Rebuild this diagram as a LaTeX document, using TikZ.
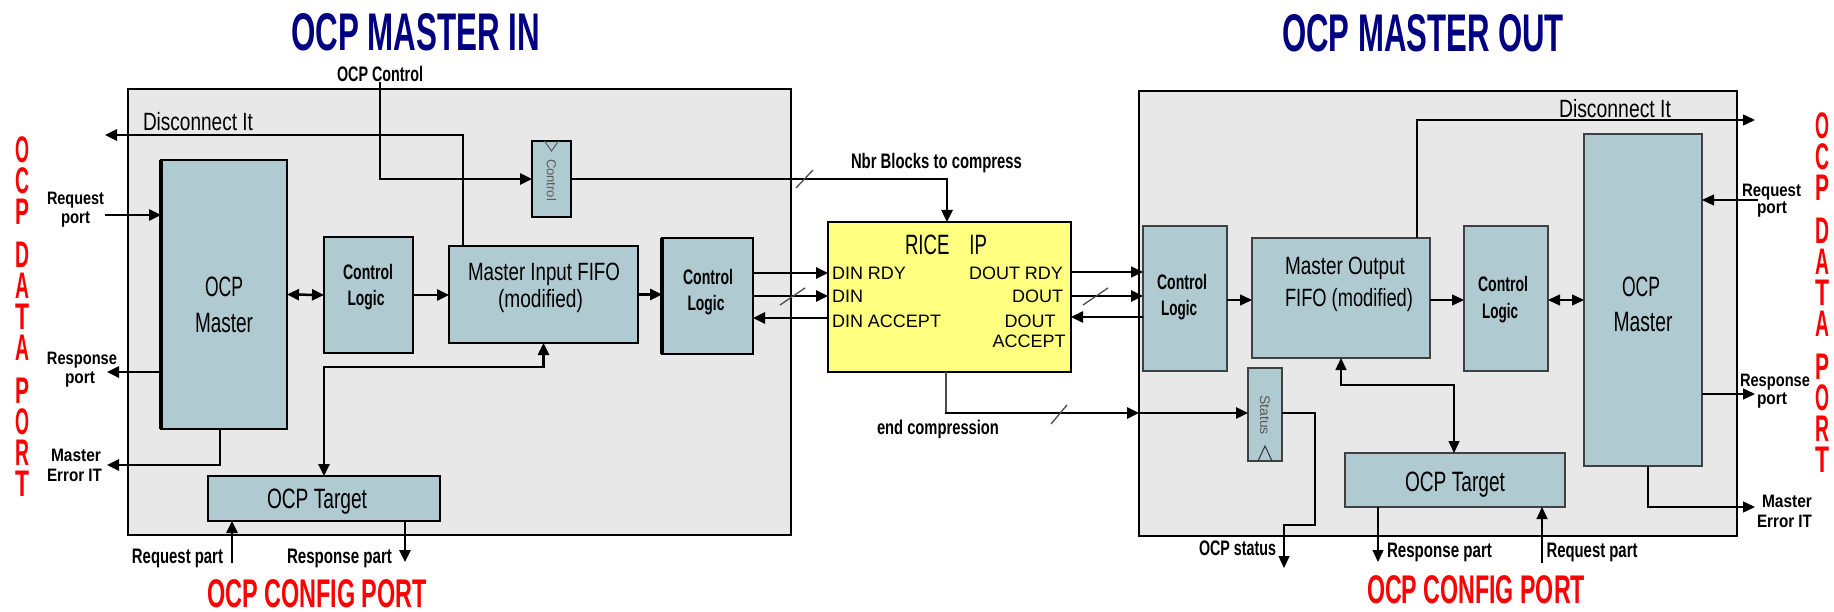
\documentclass[tikz,border=0pt]{standalone}
\usepackage{fontspec}
\setmainfont{Liberation Sans}
\usepackage{graphicx}
\usetikzlibrary{arrows.meta}
\definecolor{boxgray}{RGB}{232,232,232}
\definecolor{blockblue}{RGB}{176,202,210}
\definecolor{riceyellow}{RGB}{255,255,128}
\definecolor{navyt}{RGB}{0,0,128}
\definecolor{redt}{RGB}{255,0,0}
\definecolor{rotgray}{RGB}{90,90,90}
\newcommand\fw[2]{\resizebox{#1}{\height}{#2}}
\newcommand\fsz[1]{\fontsize{#1}{#1}\selectfont}
\newcommand\vl[1]{\resizebox{14pt}{\height}{#1}}
\begin{document}
\begin{tikzpicture}[x=1pt,y=-1pt,
  >={Triangle[length=12pt,width=11pt]},
  outerbox/.style={draw=black, line width=2.7pt, fill=boxgray, inner sep=0pt, outer sep=0pt},
  blkL/.style={draw=black, line width=2.5pt, fill=blockblue, inner sep=0pt, outer sep=0pt},
  blkR/.style={draw=black!75, line width=1.5pt, fill=blockblue, inner sep=0pt, outer sep=0pt},
  riceblk/.style={draw=black, line width=2.5pt, fill=riceyellow, inner sep=0pt, outer sep=0pt},
  cL/.style={draw=black, line width=2.5pt},
  cR/.style={draw=black, line width=1.4pt},
  slashmk/.style={draw=black!70, line width=1.3pt},
  txt/.style={inner sep=0pt, outer sep=0pt, anchor=base, text=black},
  lbl/.style={txt, font=\fsz{21}\bfseries},
  lbls/.style={txt, font=\fsz{18}\bfseries},
  blktxt/.style={txt, font=\fsz{28}},
  cltxt/.style={txt, font=\fsz{21}\bfseries},
  fifotxt/.style={txt, font=\fsz{25}},
  pin/.style={txt, font=\fsz{18}},
  ttlblue/.style={txt, font=\fsz{53}\bfseries, text=navyt},
  ttlred/.style={txt, font=\fsz{40}\bfseries, text=redt},
  redcol/.style={inner sep=0pt, outer sep=0pt, anchor=north, align=center, font=\fontsize{37}{31}\selectfont\bfseries, text=redt},
  rottxt/.style={inner sep=0pt, outer sep=0pt, rotate=-90, text=rotgray}
]
\useasboundingbox (0,0) rectangle (1834,612);
\fill[white] (0,0) rectangle (1834,612);

% outer boxes
\node[outerbox, minimum width=663pt, minimum height=446pt] (inbox) at (459.5,312) {};
\node[outerbox, minimum width=598pt, minimum height=445pt] (outbox) at (1438,313.5) {};

% left blocks
\node[blkL, minimum width=126pt, minimum height=269pt] (mL) at (224,294.5) {};
\node[blkL, minimum width=89pt, minimum height=116pt] (clL) at (368.5,295) {};
\node[blkL, minimum width=189pt, minimum height=97pt] (fifoL) at (543.5,294.5) {};
\node[blkL, minimum width=39pt, minimum height=76pt] (ctrlReg) at (551.5,179) {};
\node[blkL, minimum width=91pt, minimum height=116pt] (clL2) at (707.5,296) {};
\node[blkL, minimum width=232pt, minimum height=45pt] (tgtL) at (324,498.5) {};
\node[riceblk, minimum width=243pt, minimum height=150pt] (rice) at (949.5,297) {};
% right blocks
\node[blkR, minimum width=84pt, minimum height=145pt] (clR1) at (1185,298.5) {};
\node[blkR, minimum width=178pt, minimum height=120pt] (fifoR) at (1341,298) {};
\node[blkR, minimum width=84pt, minimum height=145pt] (clR2) at (1506,298.5) {};
\node[blkR, minimum width=118pt, minimum height=332pt] (mR) at (1643,300) {};
\node[blkR, minimum width=34pt, minimum height=93pt] (status) at (1265,414.5) {};
\node[blkR, minimum width=220pt, minimum height=54pt] (tgtR) at (1455,480) {};

\draw[line width=4pt] (mL.north west) -- (mL.south west);
\draw[line width=4pt] (clL2.north west) -- (clL2.south west);

% clock chevrons
\draw[draw=rotgray, line width=1pt] ([xshift=-7pt]ctrlReg.north) -- ([yshift=-10pt]ctrlReg.north) -- ([xshift=7pt]ctrlReg.north);
\draw[draw=black!80, line width=1pt] ([xshift=-7pt]status.south) -- ([yshift=15pt]status.south) -- ([xshift=7pt]status.south);

% titles
\node[ttlblue] (tIn) at (415.5,51) {\fw{249pt}{OCP MASTER IN}};
\node[ttlblue] (tOut) at (1423,52) {\fw{282pt}{OCP MASTER OUT}};
\node[ttlred] (cfgL) at (317,607) {\fw{220pt}{OCP CONFIG PORT}};
\node[ttlred] (cfgR) at (1476,603) {\fw{218pt}{OCP CONFIG PORT}};
\node[redcol] (dataL) at (23,137) {\vl{O}\\\vl{C}\\\vl{P}\\[12pt]\vl{D}\\\vl{A}\\\vl{T}\\\vl{A}\\[12pt]\vl{P}\\\vl{O}\\\vl{R}\\\vl{T}};
\node[redcol] (dataR) at (1822,113) {\vl{O}\\\vl{C}\\\vl{P}\\[12pt]\vl{D}\\\vl{A}\\\vl{T}\\\vl{A}\\[12pt]\vl{P}\\\vl{O}\\\vl{R}\\\vl{T}};

% block texts
\node[blktxt] (mLt1) at (224,297) {\fw{38pt}{OCP}};
\node[blktxt] (mLt2) at (224,333) {\fw{58pt}{Master}};
\node[blktxt] (mRt1) at (1641,297) {\fw{38pt}{OCP}};
\node[blktxt] (mRt2) at (1643,331) {\fw{59pt}{Master}};
\node[cltxt] (clLt1) at (368,280) {\fw{50pt}{Control}};
\node[cltxt] (clLt2) at (366,306) {\fw{37pt}{Logic}};
\node[cltxt] (clL2t1) at (708,285) {\fw{50pt}{Control}};
\node[cltxt] (clL2t2) at (706,311) {\fw{37pt}{Logic}};
\node[cltxt] (clR1t1) at (1182,290) {\fw{50pt}{Control}};
\node[cltxt] (clR1t2) at (1179,316) {\fw{36pt}{Logic}};
\node[cltxt] (clR2t1) at (1503,292) {\fw{50pt}{Control}};
\node[cltxt] (clR2t2) at (1500,319) {\fw{36pt}{Logic}};
\node[fifotxt] (fifoLt1) at (544,280) {\fw{152pt}{Master Input FIFO}};
\node[fifotxt] (fifoLt2) at (540.5,308) {\fw{85pt}{(modified)}};
\node[fifotxt] (fifoRt1) at (1345,275) {\fw{120pt}{Master Output}};
\node[fifotxt] (fifoRt2) at (1349,307) {\fw{128pt}{FIFO (modified)}};
\node[blktxt] (tgtLt) at (317,508) {\fw{100pt}{OCP Target}};
\node[blktxt] (tgtRt) at (1455,491) {\fw{100pt}{OCP Target}};
\node[blktxt] (riceT) at (946,255) {\fw{82pt}{RICE\hspace{30pt}IP}};
\node[rottxt, font=\fsz{13}] (ctrlTxt) at (551.5,180) {Control};
\node[rottxt, font=\fsz{14}] (statTxt) at (1265,415) {Status};

% pins
\node[pin, anchor=base west] (pDinRdy) at (832,280) {DIN RDY};
\node[pin, anchor=base west] (pDin) at (832,303) {DIN};
\node[pin, anchor=base west] (pDinAcc) at (832,327) {DIN ACCEPT};
\node[pin, anchor=base east] (pDoutRdy) at (1063,280) {DOUT RDY};
\node[pin, anchor=base east] (pDout) at (1063,303) {DOUT};
\node[pin] (pDoutAcc1) at (1030,327) {DOUT};
\node[pin] (pDoutAcc2) at (1029,347) {ACCEPT};

% labels
\node[txt, font=\fsz{25}] (discLt) at (198,131) {\fw{110pt}{Disconnect It}};
\node[txt, font=\fsz{25}] (discRt) at (1615,118) {\fw{112pt}{Disconnect It}};
\node[lbl] (ocpctl) at (380,82) {\fw{86pt}{OCP Control}};
\node[lbl] (nbr) at (936.5,169) {\fw{171pt}{Nbr Blocks to compress}};
\node[lbl, font=\fsz{20}\bfseries] (endc) at (938,434) {\fw{122pt}{end compression}};
\node[lbl] (ocpst) at (1237.5,555) {\fw{77pt}{OCP status}};
\node[lbl] (reqPLt) at (177.5,563) {\fw{91pt}{Request part}};
\node[lbl] (respPLt) at (339.5,563) {\fw{105pt}{Response part}};
\node[lbl] (respPRt) at (1439.5,557) {\fw{105pt}{Response part}};
\node[lbl] (reqPRt) at (1592,557) {\fw{91pt}{Request part}};
\node[lbls] (sL1) at (75.5,205) {\fw{57pt}{Request}};
\node[lbls] (sL2) at (75.5,224) {\fw{29pt}{port}};
\node[lbls] (sL3) at (82,364) {\fw{70pt}{Response}};
\node[lbls] (sL4) at (80,383) {\fw{30pt}{port}};
\node[lbls] (sL5) at (76,461) {\fw{50pt}{Master}};
\node[lbls] (sL6) at (74.5,481) {\fw{55pt}{Error IT}};
\node[lbls] (sR1) at (1771.5,197) {\fw{59pt}{Request}};
\node[lbls] (sR2) at (1772,214) {\fw{30pt}{port}};
\node[lbls] (sR3) at (1775,386) {\fw{70pt}{Response}};
\node[lbls] (sR4) at (1772,404) {\fw{30pt}{port}};
\node[lbls] (sR5) at (1787,507) {\fw{50pt}{Master}};
\node[lbls] (sR6) at (1784.5,527) {\fw{55pt}{Error IT}};

% helper coordinates
\coordinate (discL) at (105,135);
\coordinate (reqL) at (105,215);
\coordinate (respL) at (107,372);
\coordinate (errL) at (107,465);
\coordinate (reqPL) at (232,563);
\coordinate (respPL) at (405,562);
\coordinate (yRdyL) at (0,273);
\coordinate (yDinL) at (0,296);
\coordinate (yAccL) at (0,318);
\coordinate (yRdyR) at (0,272);
\coordinate (yDoutR) at (0,296);
\coordinate (yAccR) at (0,317);
\coordinate (yEnd) at (0,413);
\coordinate (yMidR) at (0,300);
\coordinate (stA) at (1315,525);
\coordinate (ocpSt) at (1284,568);
\coordinate (discR) at (1755,120);
\coordinate (respPR) at (1378,562);
\coordinate (reqPR) at (1542,563);
\coordinate (reqR) at (1758,200);
\coordinate (respR) at (1755,394);
\coordinate (errR) at (1755,507);
\coordinate (endK) at ([xshift=-3.5pt]rice.south |- yEnd);

% left connectors
\draw[cL,->] (ocpctl.south) |- (ctrlReg.west);
\draw[cL,->] ([xshift=14pt]fifoL.north west) |- (discL);
\draw[cL,->] (reqL) -- (reqL -| mL.west);
\draw[cL,->] (respL -| mL.west) -- (respL);
\draw[cL,->] ([xshift=-4pt]mL.south) |- (errL);
\draw[cL,<->] (mL.east) -- (clL.west);
\draw[cL,->] (clL.east) -- (clL.east -| fifoL.west);
\draw[cL,->] (fifoL.east) -- (fifoL.east -| clL2.west);
\draw[cL,<->] (fifoL.south) -- ++(0,24) -| (tgtL.north);
\draw[cL,->] (reqPL) -- (reqPL |- tgtL.south);
\draw[cL,->] (respPL |- tgtL.south) -- (respPL);
\draw[cL,->] (ctrlReg.east) -| ([xshift=-2.5pt]rice.north);
\draw[cL,->] (clL2.east |- yRdyL) -- (rice.west |- yRdyL);
\draw[cL,->] (clL2.east |- yDinL) -- (rice.west |- yDinL);
\draw[cL,->] (rice.west |- yAccL) -- (clL2.east |- yAccL);
% RICE right side
\draw[cR,->] (rice.east |- yRdyR) -- (clR1.west |- yRdyR);
\draw[cL,->] (rice.east |- yDoutR) -- (clR1.west |- yDoutR);
\draw[cL,->] (clR1.west |- yAccR) -- (rice.east |- yAccR);
\draw[draw=black!70, line width=1.6pt] ([xshift=-3.5pt]rice.south) -- (endK);
\draw[cL,->] ([xshift=-1.2pt]endK) -- (outbox.west |- yEnd);
\draw[cL,->] (outbox.west |- yEnd) -- (status.west |- yEnd);
% right connectors
\draw[cR,->] (status.east |- yEnd) -| (stA) -| (ocpSt);
\draw[cR,->] ([xshift=-13pt]fifoR.north east) |- (discR);
\draw[cR,->] (clR1.east |- yMidR) -- (fifoR.west |- yMidR);
\draw[cR,->] (fifoR.east |- yMidR) -- (clR2.west |- yMidR);
\draw[cR,<->] (clR2.east |- yMidR) -- (mR.west |- yMidR);
\draw[cR,<->] (fifoR.south) -- ++(0,27) -| ([xshift=-1pt]tgtR.north);
\draw[cR,->] (respPR |- tgtR.south) -- (respPR);
\draw[cR,->] (reqPR) -- (reqPR |- tgtR.south);
\draw[cR,->] (reqR) -- (reqR -| mR.east);
\draw[cR,->] (respR -| mR.east) -- (respR);
\draw[cR,->] ([xshift=5pt]mR.south) |- (errR);

% bus slashes
\draw[slashmk] (796,188) -- (813,170);
\draw[slashmk] (780,305) -- (805,288);
\draw[slashmk] (1083,305) -- (1108,288);
\draw[slashmk] (1051,424) -- (1067,405);
\end{tikzpicture}
\end{document}
